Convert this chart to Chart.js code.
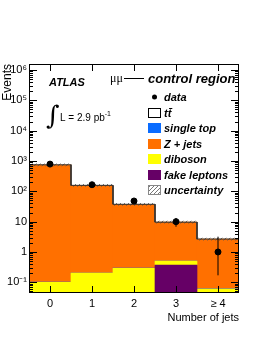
<!DOCTYPE html>
<html>
<head>
<meta charset="utf-8">
<script src="https://cdn.jsdelivr.net/npm/chart.js@4/dist/chart.umd.min.js"></script>
<style>
  body { margin: 0; background: #fff; }
  canvas { display: block; }
</style>
</head>
<body>
<canvas id="jets" width="262" height="339"></canvas>
<script>
// bins and tick labels
const jetBins = [0, 1, 2, 3, 4];
const xTickLabels = ['0', '1', '2', '3', '\u2265 4'];
const yTickValues = [0.1, 1, 10, 100, 1000, 10000, 100000, 1000000];
const yTickLabels = ['10\u207B\u00B9', '1', '10', '10\u00B2', '10\u00B3', '10\u2074', '10\u2075', '10\u2076'];
const yMin = 0.0444;
const yMax = 1.58e6;

// expected events per bin
const fakeLeptons = [0, 0, 0, 0.37, 0];
const diboson = [0.1, 0.2, 0.29, 0.13, 0.06];
const singleTop = [0.001, 0.002, 0.002, 0.001, 0.001];
const zJets = [748, 157, 37, 9.1, 2.6];
const ttbar = [0.5, 0.2, 0.1, 0.02, 0.01];
const uncertFrac = [0.08, 0.08, 0.08, 0.08, 0.08];

// observed data
const dataCounts = [790, 165, 48, 10, 1];
const dataErrLow = [28, 13, 7, 3.2, 0.83];
const dataErrHigh = [28, 13, 7, 3.2, 2.2];

const legendLabels = ['data', 'tt\u0304', 'single top', 'Z + jets', 'diboson', 'fake leptons', 'uncertainty'];

const colors = {
  ttbar: '#ffffff',
  singleTop: '#0a6cff',
  zJets: '#ff7000',
  diboson: '#ffff00',
  fake: '#660066'
};

const FONT = '"Liberation Sans", Arial, sans-serif';

// hatch pattern for the uncertainty band
function makeHatch() {
  const c = document.createElement('canvas');
  c.width = 4; c.height = 4;
  const g = c.getContext('2d');
  g.strokeStyle = '#555';
  g.lineWidth = 0.8;
  g.beginPath();
  g.moveTo(0, 4); g.lineTo(4, 0);
  g.moveTo(-1, 1); g.lineTo(1, -1);
  g.moveTo(3, 5); g.lineTo(5, 3);
  g.stroke();
  return g.createPattern(c, 'repeat');
}
const hatch = makeHatch();

// build stacked floating bars, bottom to top
const stackOrder = [
  { label: 'fake leptons', values: fakeLeptons, color: colors.fake },
  { label: 'diboson', values: diboson, color: colors.diboson },
  { label: 'single top', values: singleTop, color: colors.singleTop },
  { label: 'Z + jets', values: zJets, color: colors.zJets },
  { label: 'ttbar', values: ttbar, color: colors.ttbar }
];
const running = jetBins.map(() => 0);
const barSets = stackOrder.map(s => {
  const data = jetBins.map((b, i) => {
    const lo = Math.max(running[i], yMin);
    running[i] += s.values[i];
    return { x: b, y: [lo, Math.max(running[i], yMin)] };
  });
  return {
    type: 'bar',
    label: s.label,
    data: data,
    backgroundColor: s.color,
    borderWidth: 0,
    grouped: false,
    barPercentage: 1,
    categoryPercentage: 1,
    order: 10
  };
});
const totals = running.slice();

// outline of the total prediction
const outline = [];
jetBins.forEach((b, i) => {
  outline.push({ x: b - 0.5, y: totals[i] });
  outline.push({ x: b + 0.5, y: totals[i] });
});

// data error bars
const errLines = [];
jetBins.forEach((b, i) => {
  errLines.push({ x: b, y: dataCounts[i] - dataErrLow[i] });
  errLines.push({ x: b, y: dataCounts[i] + dataErrHigh[i] });
  errLines.push({ x: b, y: null });
});

const datasets = barSets.concat([
  {
    type: 'bar',
    label: 'uncertainty',
    data: jetBins.map((b, i) => ({ x: b, y: [totals[i] * (1 - uncertFrac[i]), totals[i] * (1 + uncertFrac[i])] })),
    backgroundColor: hatch,
    borderWidth: 0,
    grouped: false,
    barPercentage: 1,
    categoryPercentage: 1,
    order: 5
  },
  {
    type: 'line',
    label: 'outline',
    data: outline,
    borderColor: '#333',
    borderWidth: 1,
    pointRadius: 0,
    fill: false,
    order: 4
  },
  {
    type: 'line',
    label: 'errors',
    data: errLines,
    borderColor: '#000',
    borderWidth: 1,
    pointRadius: 0,
    spanGaps: false,
    fill: false,
    order: 2
  },
  {
    type: 'scatter',
    label: 'data',
    data: jetBins.map((b, i) => ({ x: b, y: dataCounts[i] })),
    backgroundColor: '#000',
    borderColor: '#000',
    pointRadius: 3,
    order: 1
  }
]);

// inner ticks, frame, legend and labels
const decorations = {
  id: 'decorations',
  afterDraw(chart) {
    const ctx = chart.ctx;
    const a = chart.chartArea;
    const ys = chart.scales.y;
    const xs = chart.scales.x;
    ctx.save();
    ctx.strokeStyle = '#000';
    ctx.lineWidth = 1;
    ctx.strokeRect(a.left + 0.5, a.top + 0.5, a.right - a.left - 1, a.bottom - a.top - 1);

    ctx.beginPath();
    const e0 = Math.floor(Math.log10(ys.min));
    const e1 = Math.ceil(Math.log10(ys.max));
    for (let e = e0; e <= e1; e++) {
      for (let k = 1; k <= 9; k++) {
        const v = k * Math.pow(10, e);
        if (v < ys.min || v > ys.max) continue;
        const py = Math.round(ys.getPixelForValue(v)) + 0.5;
        const len = k === 1 ? 8 : 4;
        ctx.moveTo(a.left, py); ctx.lineTo(a.left + len, py);
        ctx.moveTo(a.right, py); ctx.lineTo(a.right - len, py);
      }
    }
    jetBins.forEach(b => {
      const px = Math.round(xs.getPixelForValue(b)) + 0.5;
      ctx.moveTo(px, a.bottom); ctx.lineTo(px, a.bottom - 7);
      ctx.moveTo(px, a.top); ctx.lineTo(px, a.top + 7);
    });
    ctx.stroke();

    // ATLAS label and luminosity
    ctx.fillStyle = '#000';
    ctx.textBaseline = 'alphabetic';
    ctx.textAlign = 'left';
    ctx.font = 'italic bold 11px ' + FONT;
    ctx.fillText('ATLAS', 49, 86);
    ctx.font = '26px "DejaVu Serif", serif';
    ctx.fillText('\u222B', 46, 124);
    ctx.font = '10px ' + FONT;
    const lumi = 'L = 2.9 pb';
    ctx.fillText(lumi, 60, 121);
    const lw = ctx.measureText(lumi).width;
    ctx.font = '7px ' + FONT;
    ctx.fillText('-1', 60 + lw, 116);

    // channel title
    ctx.font = '12px "Liberation Serif", serif';
    ctx.fillText('\u03BC\u03BC', 110, 82);
    ctx.beginPath();
    ctx.moveTo(124, 78.5); ctx.lineTo(144, 78.5);
    ctx.stroke();
    ctx.font = 'italic bold 13px ' + FONT;
    ctx.fillText('control region', 148, 83);

    // legend
    const rowY = [97, 113, 128, 144, 159, 175, 190];
    const fills = [null, colors.ttbar, colors.singleTop, colors.zJets, colors.diboson, colors.fake, hatch];
    ctx.font = 'italic bold 11px ' + FONT;
    legendLabels.forEach((lab, i) => {
      const cy = rowY[i];
      if (i === 0) {
        ctx.beginPath();
        ctx.arc(154.5, cy, 2.5, 0, Math.PI * 2);
        ctx.fill();
      } else {
        ctx.fillStyle = fills[i];
        ctx.fillRect(148, cy - 5, 13, 10);
        if (i === 1 || i === 6) {
          ctx.strokeStyle = i === 1 ? '#000' : '#888';
          ctx.strokeRect(148.5, cy - 4.5, 12, 9);
        }
        ctx.fillStyle = '#000';
      }
      ctx.fillText(lab, 164, cy + 4);
    });
    ctx.restore();
  }
};

new Chart(document.getElementById('jets'), {
  data: { datasets: datasets },
  options: {
    responsive: false,
    animation: false,
    layout: { padding: { left: 0, top: 64, right: 23, bottom: 0 } },
    plugins: { legend: { display: false }, tooltip: { enabled: false } },
    scales: {
      x: {
        type: 'linear',
        min: -0.5,
        max: 4.5,
        offset: false,
        grid: { display: false, drawTicks: false },
        border: { display: false },
        afterBuildTicks: s => { s.ticks = jetBins.map(v => ({ value: v })); },
        afterFit: s => { s.height = 46; },
        ticks: {
          autoSkip: false,
          maxRotation: 0,
          padding: 4,
          color: '#000',
          font: { family: FONT, size: 11 },
          callback: (v, i) => xTickLabels[i]
        },
        title: {
          display: true,
          text: 'Number of jets',
          align: 'end',
          color: '#000',
          font: { family: FONT, size: 11 },
          padding: { top: 0, bottom: 14 }
        }
      },
      y: {
        type: 'logarithmic',
        min: yMin,
        max: yMax,
        grid: { display: false, drawTicks: false },
        border: { display: false },
        afterBuildTicks: s => { s.ticks = yTickValues.map(v => ({ value: v })); },
        afterFit: s => { s.width = 29; },
        ticks: {
          autoSkip: false,
          padding: 2,
          color: '#000',
          font: { family: FONT, size: 11 },
          callback: (v, i) => yTickLabels[i]
        },
        title: {
          display: true,
          text: 'Events',
          align: 'end',
          color: '#000',
          font: { family: FONT, size: 12 },
          padding: 0
        }
      }
    }
  },
  plugins: [decorations]
});
</script>
</body>
</html>
